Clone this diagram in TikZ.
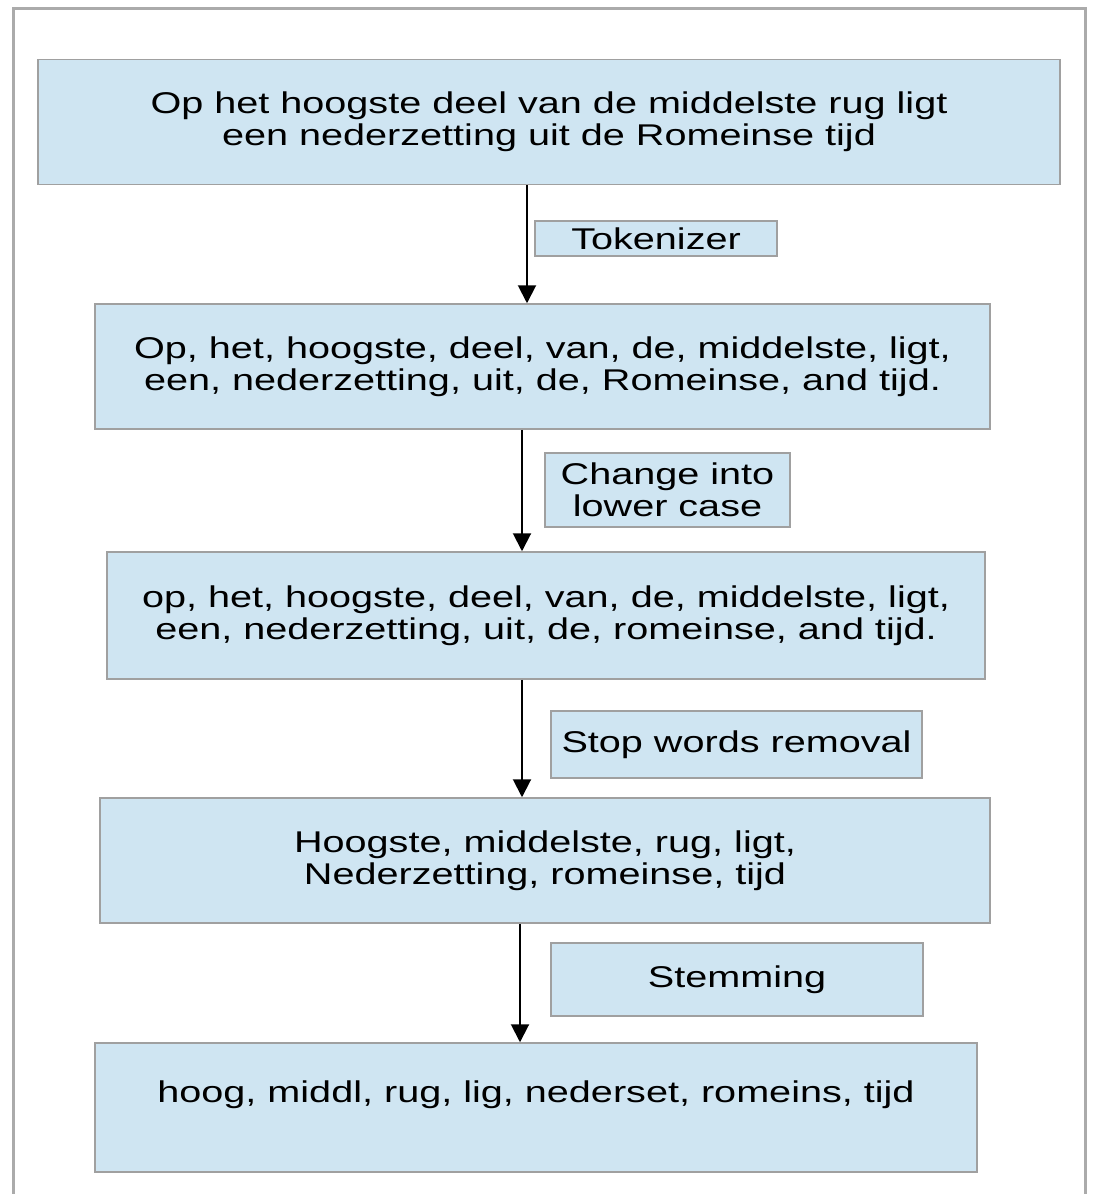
\documentclass[tikz,border=0pt]{standalone}
\usepackage{fontspec}
\setmainfont{Liberation Sans}[FakeStretch=1.32]
\usetikzlibrary{arrows.meta}
\definecolor{boxblue}{HTML}{CFE5F2}
\definecolor{boxline}{HTML}{A0A0A0}
\definecolor{framegray}{HTML}{ABABAB}
\begin{document}
\begin{tikzpicture}[x=1pt, y=-1pt,
    stage/.style={draw=boxline, line width=1.5pt, fill=boxblue, shape=rectangle, align=center, inner sep=0pt, font=\fontsize{30}{32}\selectfont},
    flow/.style={line width=2pt, -{Triangle[width=18pt, length=18pt]}}]
        \useasboundingbox (0,0) rectangle (1095,1194);
        
        \draw[framegray, line width=3pt] (13,1200) -- (13,8) -- (1085,8) -- (1085,1200);
        
        % text stages
        \node[stage, minimum width=1022pt, minimum height=125pt] (orig) at (549,122) {Op het hoogste deel van de middelste rug ligt\\een nederzetting uit de Romeinse tijd};
        \node[stage, minimum width=895pt, minimum height=125pt] (tokens) at (542.5,366.5) {Op, het, hoogste, deel, van, de, middelste, ligt,\\een, nederzetting, uit, de, Romeinse, and tijd.};
        \node[stage, minimum width=878pt, minimum height=127pt] (lower) at (546,615.5) {op, het, hoogste, deel, van, de, middelste, ligt,\\een, nederzetting, uit, de, romeinse, and tijd.};
        \node[stage, minimum width=890pt, minimum height=125pt] (nostop) at (545,860.5) {Hoogste, middelste, rug, ligt,\\Nederzetting, romeinse, tijd};
        \node[stage, minimum width=882pt, minimum height=129pt] (stems) at (536,1107.5) {hoog, middl, rug, lig, nederset, romeins, tijd\\\mbox{}};
        
        % steps between them
        \node[stage, minimum width=242pt, minimum height=35pt] (tok) at (656,238.5) {Tokenizer};
        \node[stage, minimum width=245pt, minimum height=74pt] (case) at (667.5,490) {Change into\\lower case};
        \node[stage, minimum width=371pt, minimum height=67pt] (stop) at (736.5,744.5) {Stop words removal};
        \node[stage, minimum width=372pt, minimum height=73pt] (stem) at (737,979.5) {Stemming};
        
        \coordinate (c1) at (527,0);
        \coordinate (c2) at (522,0);
        \coordinate (c3) at (522,0);
        \coordinate (c4) at (520,0);
        \draw[flow] (orig.south -| c1) -- (tokens.north -| c1);
        \draw[flow] (tokens.south -| c2) -- (lower.north -| c2);
        \draw[flow] (lower.south -| c3) -- (nostop.north -| c3);
        \draw[flow] (nostop.south -| c4) -- (stems.north -| c4);
        
    \end{tikzpicture}
\end{document}
